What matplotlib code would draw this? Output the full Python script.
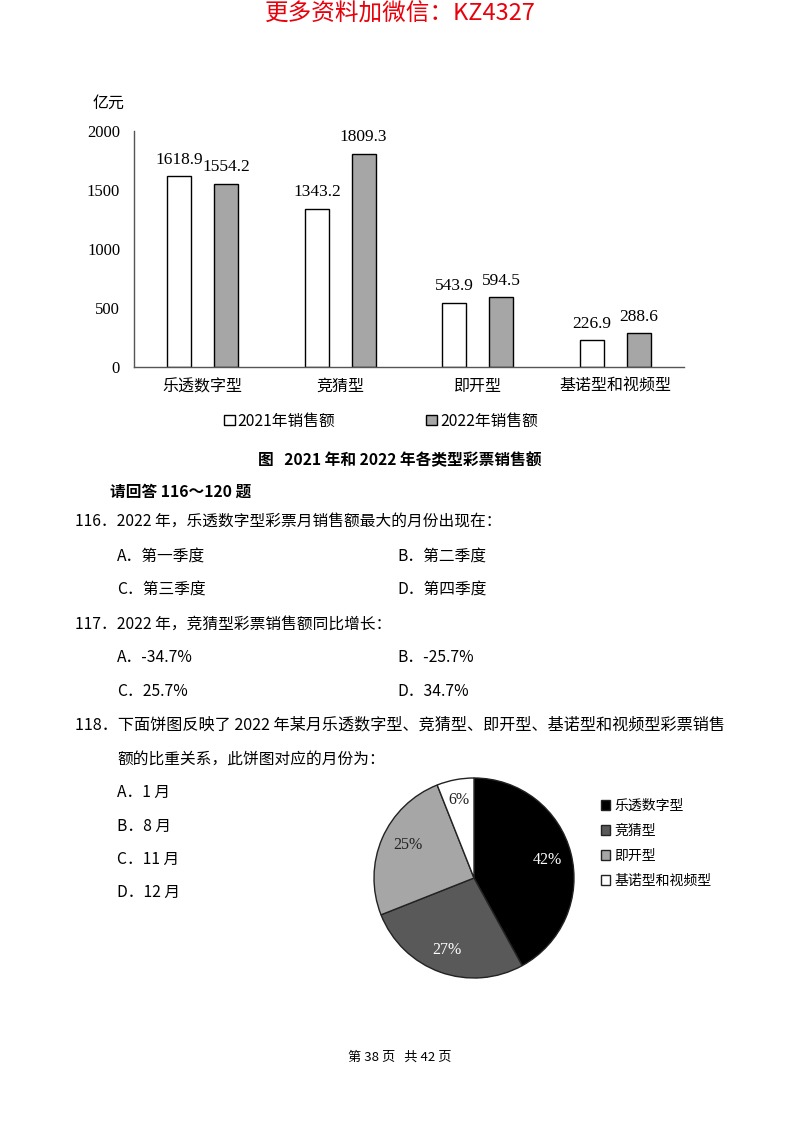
import numpy as np
import matplotlib
matplotlib.use("Agg")
import matplotlib.pyplot as plt

plt.rcParams['font.family'] = ['Noto Sans CJK SC', 'DejaVu Sans']

# data
categories = ['乐透数字型', '竞猜型', '即开型', '基诺型和视频型']
sales_2021 = [1618.9, 1343.2, 543.9, 226.9]
sales_2022 = [1554.2, 1809.3, 594.5, 288.6]
series_names = ['2021年销售额', '2022年销售额']
y_ticks = [0, 500, 1000, 1500, 2000]

pie_labels = ['乐透数字型', '竞猜型', '即开型', '基诺型和视频型']
pie_share = [42, 27, 25, 6]
pie_colors = ['#000000', '#595959', '#a6a6a6', '#ffffff']
pie_text_colors = ['white', 'white', '#222222', '#222222']

W, H = 800, 1124
fig = plt.figure(figsize=(8, 11.24), dpi=100)
fig.patch.set_facecolor('white')
serif = ['Liberation Serif', 'DejaVu Serif']


def px(x, y):
    return x / W, 1 - y / H


def put(x, y, s, size=11.3, **kw):
    fx, fy = px(x, y)
    fig.text(fx, fy, s, fontsize=size, va='center', **kw)


# red header
put(400, 14, '更多资料加微信：KZ4327', size=17, color='#e8000b', ha='center')

# ---- bar chart ----
ax = fig.add_axes([134 / W, 1 - 367 / H, 550 / W, 236 / H])
x = np.arange(len(categories))
bw = 0.175
off = 0.17
b1 = ax.bar(x - off, sales_2021, bw, color='white', edgecolor='black', linewidth=1,
            label=series_names[0])
b2 = ax.bar(x + off, sales_2022, bw, color='#a6a6a6', edgecolor='black', linewidth=1,
            label=series_names[1])
for bars, vals in [(b1, sales_2021), (b2, sales_2022)]:
    for r, v in zip(bars, vals):
        ax.annotate(f'{v:.1f}', (r.get_x() + r.get_width() / 2, v), xytext=(0, 6),
                    textcoords='offset points', ha='center', va='bottom',
                    fontsize=12.5, family=serif)
ax.set_xlim(-0.5, 3.5)
ax.set_ylim(0, 2000)
ax.set_yticks(y_ticks)
ax.set_yticklabels([str(t) for t in y_ticks], family=serif, fontsize=12)
ax.set_xticks(x)
ax.set_xticklabels(categories, fontsize=11.5)
ax.tick_params(length=0, pad=8)
ax.tick_params(axis='y', pad=10)
for s in ['top', 'right']:
    ax.spines[s].set_visible(False)
for s in ['left', 'bottom']:
    ax.spines[s].set_color('#555555')
    ax.spines[s].set_linewidth(1)
put(93, 103, '亿元', size=11.5)

fx, fy = px(381, 421)
ax.legend(handles=[b1, b2], loc='center', bbox_to_anchor=(fx, fy),
          bbox_transform=fig.transFigure, ncol=2, frameon=False, fontsize=11.3,
          handlelength=0.7, handleheight=0.7, handletextpad=0.2, columnspacing=5.8)

put(400, 460, '图   2021 年和 2022 年各类型彩票销售额', size=11.3, ha='center',
    fontweight='bold')

# ---- questions ----
put(110, 492, '请回答 116～120 题', size=11.3, fontweight='bold')
put(75, 522, '116．2022 年，乐透数字型彩票月销售额最大的月份出现在：')
put(117, 557, 'A．第一季度')
put(397, 557, 'B．第二季度')
put(117, 590, 'C．第三季度')
put(397, 590, 'D．第四季度')
put(75, 624, '117．2022 年，竞猜型彩票销售额同比增长：')
put(117, 658, 'A．-34.7%')
put(397, 658, 'B．-25.7%')
put(117, 691, 'C．25.7%')
put(397, 691, 'D．34.7%')
put(75, 725, '118．下面饼图反映了 2022 年某月乐透数字型、竞猜型、即开型、基诺型和视频型彩票销售',
    size=11.6)
put(117, 759, '额的比重关系，此饼图对应的月份为：')
put(117, 792, 'A．1 月')
put(117, 826, 'B．8 月')
put(117, 859, 'C．11 月')
put(117, 892, 'D．12 月')

# ---- pie ----
cx, cy, r = 474, 878, 101
ax2 = fig.add_axes([(cx - r) / W, 1 - (cy + r) / H, 2 * r / W, 2 * r / H])
wedges, texts = ax2.pie(pie_share, colors=pie_colors, startangle=90, counterclock=False,
                        wedgeprops=dict(edgecolor='#222222', linewidth=1))
label_pos = [(547, 860), (447, 950), (408, 845), (459, 800)]
for (lx, ly), v, c in zip(label_pos, pie_share, pie_text_colors):
    fx, fy = px(lx, ly)
    fig.text(fx, fy, f'{v}%', fontsize=11.5, color=c, ha='center', va='center',
             family=serif)
ax2.set_xlim(-1.01, 1.01)
ax2.set_ylim(-1.01, 1.01)

fx, fy = px(588, 786)
ax2.legend(wedges, pie_labels, loc='upper left', bbox_to_anchor=(fx, fy),
           bbox_transform=fig.transFigure, frameon=False, fontsize=10,
           handlelength=0.7, handleheight=0.7, handletextpad=0.3, labelspacing=0.8)

put(400, 1057, '第 38 页   共 42 页', size=9.5, ha='center')

fig.savefig('out.png', dpi=100, facecolor='white')
